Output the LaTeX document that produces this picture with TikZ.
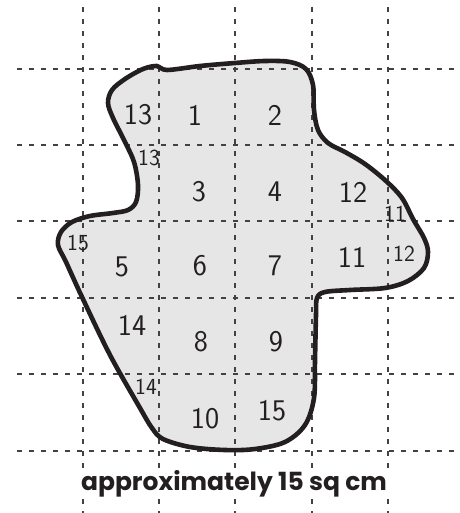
\documentclass[tikz,border=0pt]{standalone}
\usepackage{fontspec}
\newfontfamily\capfont{Poppins}
\definecolor{shapefill}{HTML}{E6E6E6}
\definecolor{ink}{HTML}{231F20}
\begin{document}
\begin{tikzpicture}[x=1pt,y=-1pt,
  gridline/.style={draw=ink!85, line width=1.2pt, dash pattern=on 5pt off 7pt},
  outline/.style={draw=ink, line width=4.6pt, line join=round},
  big/.style={font=\sffamily\fontsize{30}{30}\selectfont, text=ink, inner sep=0pt},
  small/.style={font=\sffamily\fontsize{23}{23}\selectfont, text=ink, inner sep=0pt}]
\useasboundingbox (0,0) rectangle (459,513);
\fill[white] (0,0) rectangle (459,513);
\fill[shapefill, save path=\blobpath] plot[smooth cycle, tension=0.55] coordinates {
 (167,70) (200,66) (235,63) (265,61) (290,62) (306,69) (313,85) (314,110) (318,130)
 (328,143) (345,152) (365,164) (386,181) (402,198) (413,219) (424,238) (428,252) (424,268) (408,281)
 (385,288) (350,290) (325,292) (317,298) (316,315) (315,360) (314,398) (305,425)
 (285,442) (255,449) (225,450) (190,447) (163,439) (152,428) (140,408) (110,355)
 (82,297) (66,262) (58,245) (61,232) (72,222) (90,216) (113,213) (128,210) (136,202)
 (138,185) (134,162) (124,140) (113,118) (108,103) (112,90) (125,79) (143,69) (157,66)};
\foreach \x in {83,159,235,312,388} \draw[gridline] (\x,7) -- (\x,513);
\foreach \y in {69,145,221,298,374,451} \draw[gridline] (17,\y) -- (459,\y);
\draw[outline, use path=\blobpath];
\node[big] (n13a) at (138,115) {13};
\node[big] (n1) at (195,115) {1};
\node[big] (n2) at (275,115) {2};
\node[small] (n13b) at (149,158) {13};
\node[big] (n3) at (199,192) {3};
\node[big] (n4) at (275,192) {4};
\node[big] (n12a) at (353,192) {12};
\node[small] (n11a) at (395,214) {11};
\node[small] (n15a) at (78,243) {15};
\node[big] (n5) at (122,267) {5};
\node[big] (n6) at (200,266) {6};
\node[big] (n7) at (275,266) {7};
\node[big] (n11b) at (352,257) {11};
\node[small] (n12b) at (404,254) {12};
\node[big] (n14a) at (132,325) {14};
\node[big] (n8) at (201,342) {8};
\node[big] (n9) at (276,342) {9};
\node[small] (n14b) at (146,387) {14};
\node[big] (n10) at (205,419) {10};
\node[big] (n15b) at (272,411) {15};
\node[fill=white, inner sep=2pt, text=ink, font=\capfont\bfseries\fontsize{25}{25}\selectfont] (cap) at (234,484) {approximately 15 sq cm};
\end{tikzpicture}
\end{document}
